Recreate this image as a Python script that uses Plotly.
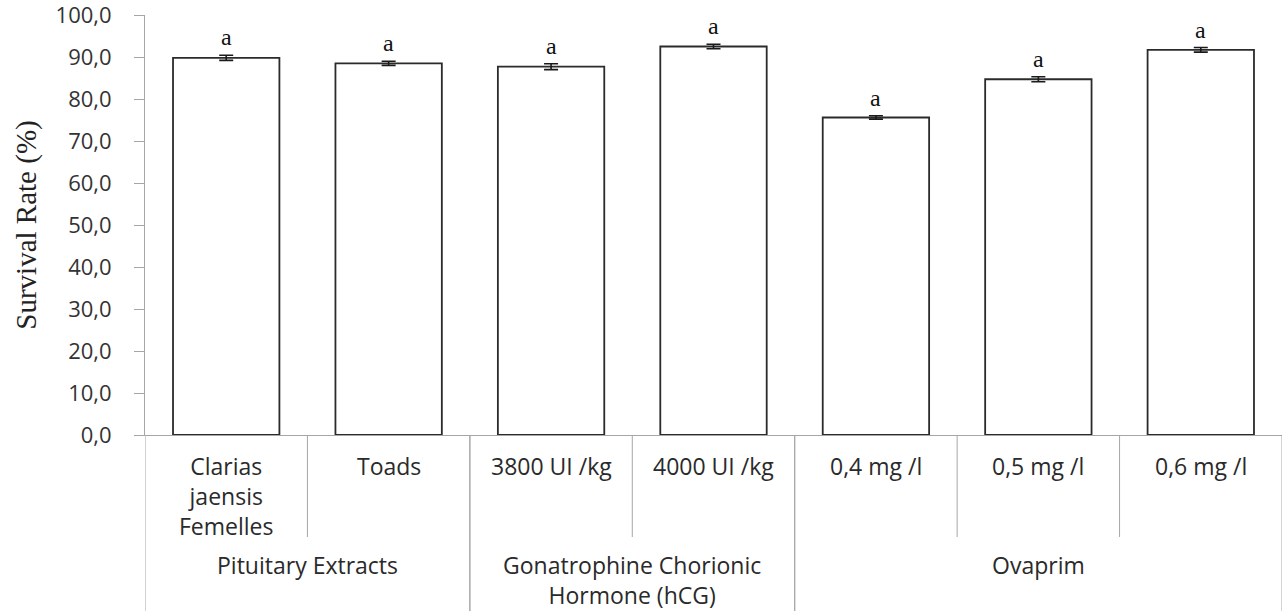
import plotly.graph_objects as go

# treatments (level 1) and their hormone groups (level 2)
treatments = ["Clarias<br>jaensis<br>Femelles", "Toads", "3800 UI /kg", "4000 UI /kg",
              "0,4 mg /l", "0,5 mg /l", "0,6 mg /l"]
groups = ["Pituitary Extracts", "Gonatrophine Chorionic<br>Hormone (hCG)", "Ovaprim"]
group_sizes = [2, 2, 3]

survival = [89.8, 88.5, 87.7, 92.5, 75.6, 84.7, 91.7]
errors = [0.6, 0.5, 0.7, 0.55, 0.4, 0.6, 0.55]
letters = ["a", "a", "a", "a", "a", "a", "a"]

PLOT_H = 420  # px height of plot area, used to place things below the axis


def py(px_below_axis):
    # paper y for a distance (px) below the x axis line
    return -px_below_axis / PLOT_H


fig = go.Figure()

fig.add_trace(go.Bar(
    x=list(range(len(treatments))),
    y=survival,
    width=0.655,
    marker=dict(color="white", line=dict(color="#2b2b2b", width=1.8)),
    error_y=dict(type="data", array=errors, visible=True,
                 color="#1a1a1a", thickness=1.6, width=7),
    showlegend=False,
    hoverinfo="y",
))

annotations = []

# significance letters
for i, (v, e, l) in enumerate(zip(survival, errors, letters)):
    annotations.append(dict(
        x=i, y=v + e, xref="x", yref="y", text=l, showarrow=False,
        yanchor="bottom", yshift=3,
        font=dict(family="Liberation Serif", size=24, color="#111111"),
    ))

# level 1 labels
label_font = dict(family="Open Sans", size=23, color="#2a2a2a")
for i, t in enumerate(treatments):
    annotations.append(dict(
        x=i, y=py(13), xref="x", yref="paper", text=t, showarrow=False,
        yanchor="top", font=label_font,
    ))

# level 2 labels and dividers
shapes = []
line_style = dict(color="#a6a6a6", width=1)
start = 0
for g, n in zip(groups, group_sizes):
    center = start + (n - 1) / 2
    annotations.append(dict(
        x=center, y=py(112), xref="x", yref="paper", text=g, showarrow=False,
        yanchor="top", font=label_font,
    ))
    # inner dividers
    for k in range(1, n):
        shapes.append(dict(type="line", xref="x", yref="paper",
                           x0=start + k - 0.5, x1=start + k - 0.5,
                           y0=0, y1=py(102), line=line_style))
    # group boundaries
    for b in (start - 0.5, start + n - 0.5):
        shapes.append(dict(type="line", xref="x", yref="paper",
                           x0=b, x1=b, y0=0, y1=py(176), line=line_style))
    start += n

fig.update_layout(
    width=1286,
    height=611,
    margin=dict(l=145, r=4, t=15, b=176, autoexpand=False),
    paper_bgcolor="white",
    plot_bgcolor="white",
    separators=",.",
    xaxis=dict(
        range=[-0.5, len(treatments) - 0.5],
        showticklabels=False,
        showgrid=False,
        zeroline=False,
        showline=True,
        linecolor="#a6a6a6",
        linewidth=1,
        ticks="",
        automargin=False,
        fixedrange=True,
    ),
    yaxis=dict(
        range=[0, 100],
        dtick=10,
        tickformat=".1f",
        showgrid=False,
        zeroline=False,
        showline=True,
        linecolor="#a6a6a6",
        linewidth=1,
        ticks="outside",
        ticklen=10,
        tickcolor="#a6a6a6",
        ticklabelstandoff=18,
        ticklabeloverflow="allow",
        automargin=False,
        tickfont=dict(family="Open Sans", size=22, color="#333333"),
        title=dict(text="Survival Rate (%)", standoff=10,
                   font=dict(family="Liberation Serif", size=29, color="#222222")),
    ),
    annotations=annotations,
    shapes=shapes,
)

# drop the default 8px body margin so the figure fills the window exactly
fig.write_html("out.html", config={"displayModeBar": False},
               post_script="document.body.style.margin='0';")
